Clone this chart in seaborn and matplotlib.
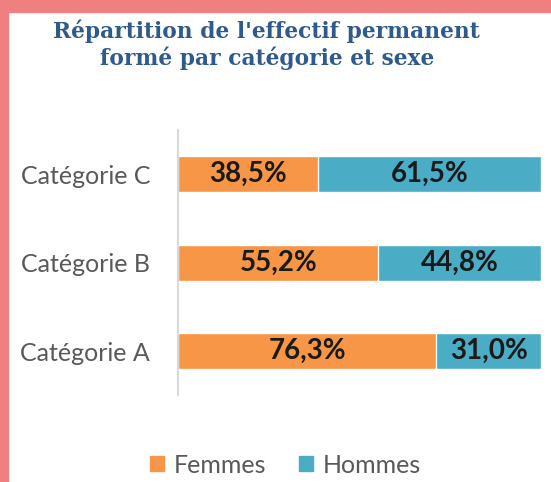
import numpy as np
import pandas as pd
import matplotlib.pyplot as plt
import matplotlib.patches as mpatches
import seaborn as sns

# data (labels as printed, bars drawn as 100% stacked)
categories = ["Catégorie C", "Catégorie B", "Catégorie A"]
femmes = [38.5, 55.2, 76.3]
hommes = [61.5, 44.8, 31.0]

orange = "#F79646"
blue = "#4BACC6"

df = pd.DataFrame({"cat": categories, "Femmes": femmes, "Hommes": hommes})
tot = df["Femmes"] + df["Hommes"]
df["f_share"] = df["Femmes"] / tot * 100
df["total"] = 100.0

sns.set_style("white")
plt.rcParams["font.family"] = ["Lato", "DejaVu Sans"]
plt.rcParams["ytick.major.pad"] = 20

fig = plt.figure(figsize=(5.51, 4.82), dpi=100)
ax = fig.add_axes([0.323, 0.18, 0.659, 0.55])

sns.barplot(data=df, y="cat", x="total", order=categories, color=blue,
            saturation=1, width=0.41, ax=ax)
sns.barplot(data=df, y="cat", x="f_share", order=categories, color=orange,
            saturation=1, width=0.41, ax=ax)

for i, row in df.iterrows():
    fs = row["f_share"]
    ax.text(fs / 2, i, f"{row['Femmes']:.1f}%".replace(".", ","), ha="center",
            va="center", fontsize=20, fontweight="bold", color="#1a1a1a")
    ax.text(fs + (100 - fs) / 2, i, f"{row['Hommes']:.1f}%".replace(".", ","),
            ha="center", va="center", fontsize=20, fontweight="bold", color="#1a1a1a")

ax.set_xlim(0, 100)
ax.set_xlabel("")
ax.set_ylabel("")
ax.set_xticks([])
ax.tick_params(axis="y", length=0, pad=20, labelsize=18, labelcolor="#595959")
for s in ["top", "right", "bottom"]:
    ax.spines[s].set_visible(False)
ax.spines["left"].set_color("#d9d9d9")
ax.spines["left"].set_linewidth(1.5)

# pink frame on top and left
fig.patches.append(mpatches.Rectangle((0, 1 - 12 / 482), 1, 12 / 482,
                                      transform=fig.transFigure, color="#F08080", zorder=0))
fig.patches.append(mpatches.Rectangle((0, 0), 8 / 551, 1,
                                      transform=fig.transFigure, color="#F08080", zorder=0))

fig.text(0.484, 0.907, "Répartition de l'effectif permanent\nformé par catégorie et sexe",
         ha="center", va="center", fontsize=15.7, fontweight="bold",
         family=["DejaVu Serif"], color="#2E5A8C", linespacing=1.2)

handles = [mpatches.Patch(color=orange, label="Femmes"),
           mpatches.Patch(color=blue, label="Hommes")]
fig.legend(handles=handles, loc="center", bbox_to_anchor=(0.518, 0.035), ncol=2,
           frameon=False, fontsize=18, handlelength=0.55, handleheight=0.55,
           handletextpad=0.4, columnspacing=1.3, labelcolor="#595959")

fig.savefig("out.png", dpi=100, facecolor="white")
